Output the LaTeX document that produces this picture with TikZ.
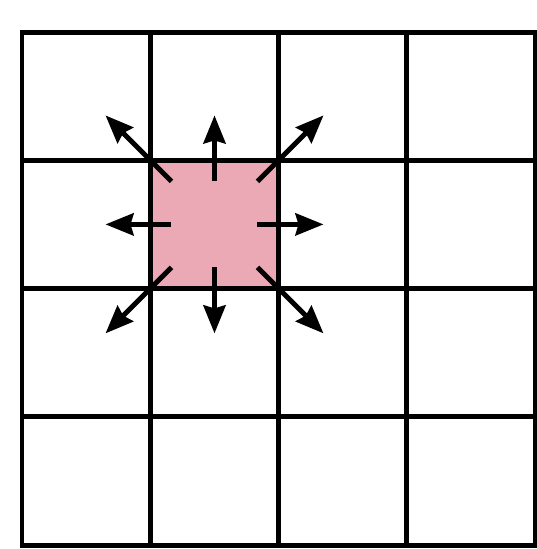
\documentclass[tikz,border=0pt]{standalone}
\usetikzlibrary{arrows.meta}
\definecolor{cellpink}{RGB}{235,168,181}
\begin{document}
\begin{tikzpicture}[x=0.02cm,y=-0.02cm,
  gridline/.style={line width=0.1cm,line cap=rect},
  outarrow/.style={line width=0.1cm,-{Stealth[length=0.56cm,width=0.44cm,inset=0.06cm]}}]
\useasboundingbox (0,0) rectangle (537,549);
\fill[cellpink] (150.25,160.25) rectangle (278.5,288.5);
\foreach \i in {0,...,4} {
  \draw[gridline] ({22+128.25*\i},32) -- ({22+128.25*\i},545);
  \draw[gridline] (22,{32+128.25*\i}) -- (535,{32+128.25*\i});
}
\coordinate (c) at (214.5,224.4);
\foreach \dx/\dy/\n in {1/0/e,1/1/se,0/1/s,-1/1/sw,-1/0/w,-1/-1/nw,0/-1/n,1/-1/ne} {
  \coordinate (s\n) at ([shift={({43*\dx},{43*\dy})}]c);
  \coordinate (t\n) at ([shift={({109*\dx},{109*\dy})}]c);
  \draw[outarrow] (s\n) -- (t\n);
}
\end{tikzpicture}
\end{document}
